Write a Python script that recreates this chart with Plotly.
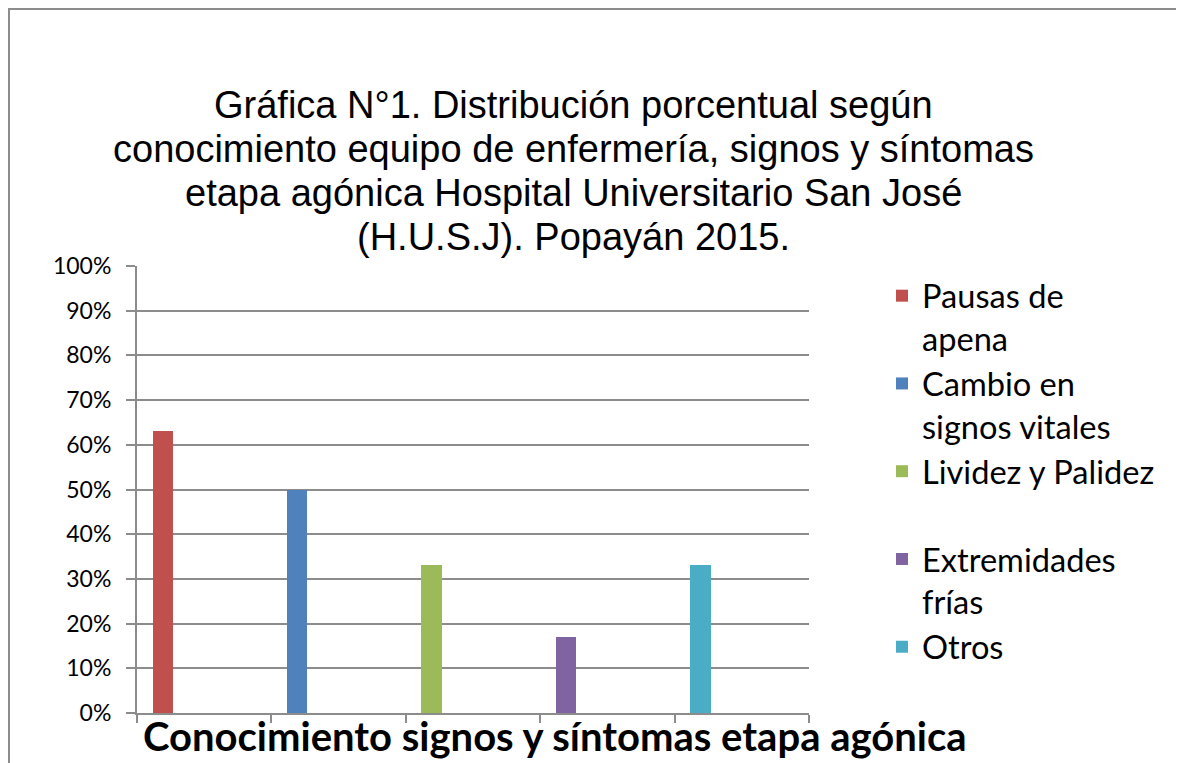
import plotly.graph_objects as go

categories = ["Pausas de apena", "Cambio en signos vitales", "Lividez y Palidez",
              "Extremidades frías", "Otros"]
legend_labels = ["Pausas de<br>apena", "Cambio en<br>signos vitales", "Lividez y Palidez<br> ",
                 "Extremidades<br>frías", "Otros"]
values = [0.63, 0.50, 0.33, 0.17, 0.33]
colors = ["#C0504D", "#4F81BD", "#9BBB59", "#8064A2", "#4BACC6"]
y_ticks = [0, 0.1, 0.2, 0.3, 0.4, 0.5, 0.6, 0.7, 0.8, 0.9, 1.0]

title_lines = ["Gráfica N°1. Distribución porcentual según",
               "conocimiento equipo de enfermería, signos y síntomas",
               "etapa agónica Hospital Universitario San José",
               "(H.U.S.J). Popayán 2015."]
x_title = "Conocimiento signos y síntomas etapa agónica"

# figure is placed 8px into the page by the default body margin
W, H = 1176, 755
L, R, T, B = 129, 801, 258, 705

fig = go.Figure()
for cat, lab, v, c in zip(categories, legend_labels, values, colors):
    fig.add_trace(go.Bar(x=[cat], y=[v], name=lab, marker_color=c,
                         width=0.1525, offset=-0.384, marker_line_width=0))

def px_x(p):
    return (p - L) / (R - L)

def px_y(p):
    return (B - p) / (B - T)

fig.update_layout(
    width=W, height=H,
    margin=dict(l=L, r=W - R, t=T, b=H - B, autoexpand=False),
    paper_bgcolor="white", plot_bgcolor="white",
    showlegend=True,
    legend=dict(x=px_x(874), xanchor="left", y=px_y(260), yanchor="top",
                font=dict(family="Lato, Carlito, sans-serif", size=32.6, color="black"),
                valign="top", bgcolor="rgba(0,0,0,0)", itemwidth=30,
                tracegroupgap=0, traceorder="normal"),
    xaxis=dict(type="category", categoryorder="array", categoryarray=categories,
               showticklabels=False, ticks="outside", tickson="boundaries",
               ticklen=8, tickcolor="#8c8c8c", tickwidth=2,
               showline=True, linecolor="#8c8c8c", linewidth=2,
               showgrid=False, zeroline=False, fixedrange=True),
    yaxis=dict(range=[0, 1], tickvals=y_ticks, tickformat=".0%",
               ticks="outside", ticklen=9, tickcolor="#8c8c8c", tickwidth=2,
               ticklabelstandoff=10,
               showline=True, linecolor="#8c8c8c", linewidth=2,
               showgrid=True, gridcolor="#8c8c8c", gridwidth=2, zeroline=False,
               tickfont=dict(family="Lato, Carlito, sans-serif", size=23, color="black"),
               fixedrange=True),
    bargap=0,
)

title_y = [97, 141, 185, 229]
for line, yy in zip(title_lines, title_y):
    fig.add_annotation(text=line, xref="paper", yref="paper",
                       x=px_x(565), y=px_y(yy), xanchor="center", yanchor="middle",
                       showarrow=False,
                       font=dict(family="Liberation Sans, Arial", size=38, color="black"))

fig.add_annotation(text="<b>" + x_title + "</b>", xref="paper", yref="paper",
                   x=px_x(547), y=px_y(728), xanchor="center", yanchor="middle",
                   showarrow=False,
                   font=dict(family="Lato, Carlito, sans-serif", size=40, color="black"))

# outer chart frame
fig.add_shape(type="rect", xref="paper", yref="paper",
              x0=px_x(1), x1=px_x(1174), y0=px_y(800), y1=px_y(1),
              line=dict(color="#8c8c8c", width=2), fillcolor="rgba(0,0,0,0)", layer="below")

fig.write_html("out.html")
